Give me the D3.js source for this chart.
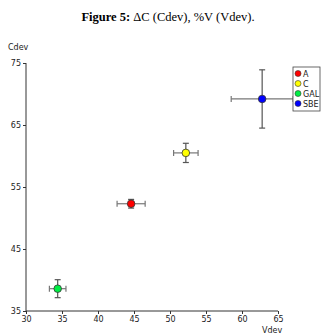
<!DOCTYPE html>
<html><head><meta charset="utf-8">
<script src="https://cdn.jsdelivr.net/npm/d3@7"></script>
<style>body{margin:0;background:#fff}svg{display:block}</style>
</head><body>
<script>
const groups = ["A","C","GAL","SBE"];
const colors = ["#ff0000","#ffff00","#00ee44","#0000ff"];
const vdev = [44.6, 52.2, 34.4, 62.8];
const cdev = [52.3, 60.5, 38.6, 69.2];
const vErr = [1.95, 1.7, 1.15, 4.3];
const cErr = [0.7, 1.55, 1.45, 4.7];
const xTicks = [30,35,40,45,50,55,60,65];
const yTicks = [35,45,55,65,75];

const W=329,H=334;
const svg=d3.select("body").append("svg").attr("width",W).attr("height",H);
const x=d3.scaleLinear().domain([30,65]).range([26,278]);
const y=d3.scaleLinear().domain([35,75]).range([311,63]);

// title
const t=svg.append("text").attr("x",168).attr("y",21).attr("text-anchor","middle")
 .style("font-family","Liberation Serif, serif").style("font-size","12.5px").attr("fill","#000");
t.append("tspan").style("font-weight","bold").text("Figure 5: ");
t.append("tspan").text("ΔC (Cdev), %V (Vdev).");

const font="DejaVu Sans, sans-serif";
const xa=svg.append("g").attr("transform","translate(0,311)")
 .call(d3.axisBottom(x).tickValues(xTicks).tickSize(3).tickPadding(2));
const ya=svg.append("g").attr("transform","translate(26,0)")
 .call(d3.axisLeft(y).tickValues(yTicks).tickSize(3).tickPadding(2));
[xa,ya].forEach(a=>{a.selectAll("path,line").attr("stroke","#333");
 a.selectAll("text").style("font-family",font).style("font-size","8px").attr("fill","#222");});
ya.select(".domain").attr("d","M-0,63V311");
xa.select(".domain").attr("d","M26,0H278");

svg.append("text").attr("x",8).attr("y",50).text("Cdev")
 .style("font-family",font).style("font-size","8px").attr("fill","#222");
svg.append("text").attr("x",262).attr("y",333).text("Vdev")
 .style("font-family",font).style("font-size","8px").attr("fill","#222");

const g=svg.append("g");
const cap=3;
groups.forEach((k,i)=>{
  const cx=x(vdev[i]),cy=y(cdev[i]);
  const x0=x(vdev[i]-vErr[i]),x1=x(vdev[i]+vErr[i]);
  const y0=y(cdev[i]-cErr[i]),y1=y(cdev[i]+cErr[i]);
  const e=g.append("g").attr("stroke","#777").attr("stroke-width",1.2);
  e.append("line").attr("x1",x0).attr("x2",x1).attr("y1",cy).attr("y2",cy);
  e.append("line").attr("x1",x0).attr("x2",x0).attr("y1",cy-cap).attr("y2",cy+cap);
  e.append("line").attr("x1",x1).attr("x2",x1).attr("y1",cy-cap).attr("y2",cy+cap);
  const v=g.append("g").attr("stroke","#555").attr("stroke-width",1.2);
  v.append("line").attr("x1",cx).attr("x2",cx).attr("y1",y0).attr("y2",y1);
  v.append("line").attr("x1",cx-cap).attr("x2",cx+cap).attr("y1",y0).attr("y2",y0);
  v.append("line").attr("x1",cx-cap).attr("x2",cx+cap).attr("y1",y1).attr("y2",y1);
  g.append("circle").attr("cx",cx).attr("cy",cy).attr("r",3.8)
   .attr("fill",colors[i]).attr("stroke","#333").attr("stroke-width",0.8);
});

// legend
const lg=svg.append("g").attr("transform","translate(293,67)");
lg.append("rect").attr("width",27).attr("height",44).attr("fill","#fff").attr("stroke","#444").attr("stroke-width",0.8);
groups.forEach((k,i)=>{
  const r=lg.append("g").attr("transform",`translate(0,${6.5+i*10})`);
  r.append("circle").attr("cx",5).attr("cy",0).attr("r",3).attr("fill",colors[i]).attr("stroke","#333").attr("stroke-width",0.6);
  r.append("text").attr("x",10).attr("y",3).text(k).style("font-family",font).style("font-size","8px").attr("fill","#222");
});
</script>
</body></html>
